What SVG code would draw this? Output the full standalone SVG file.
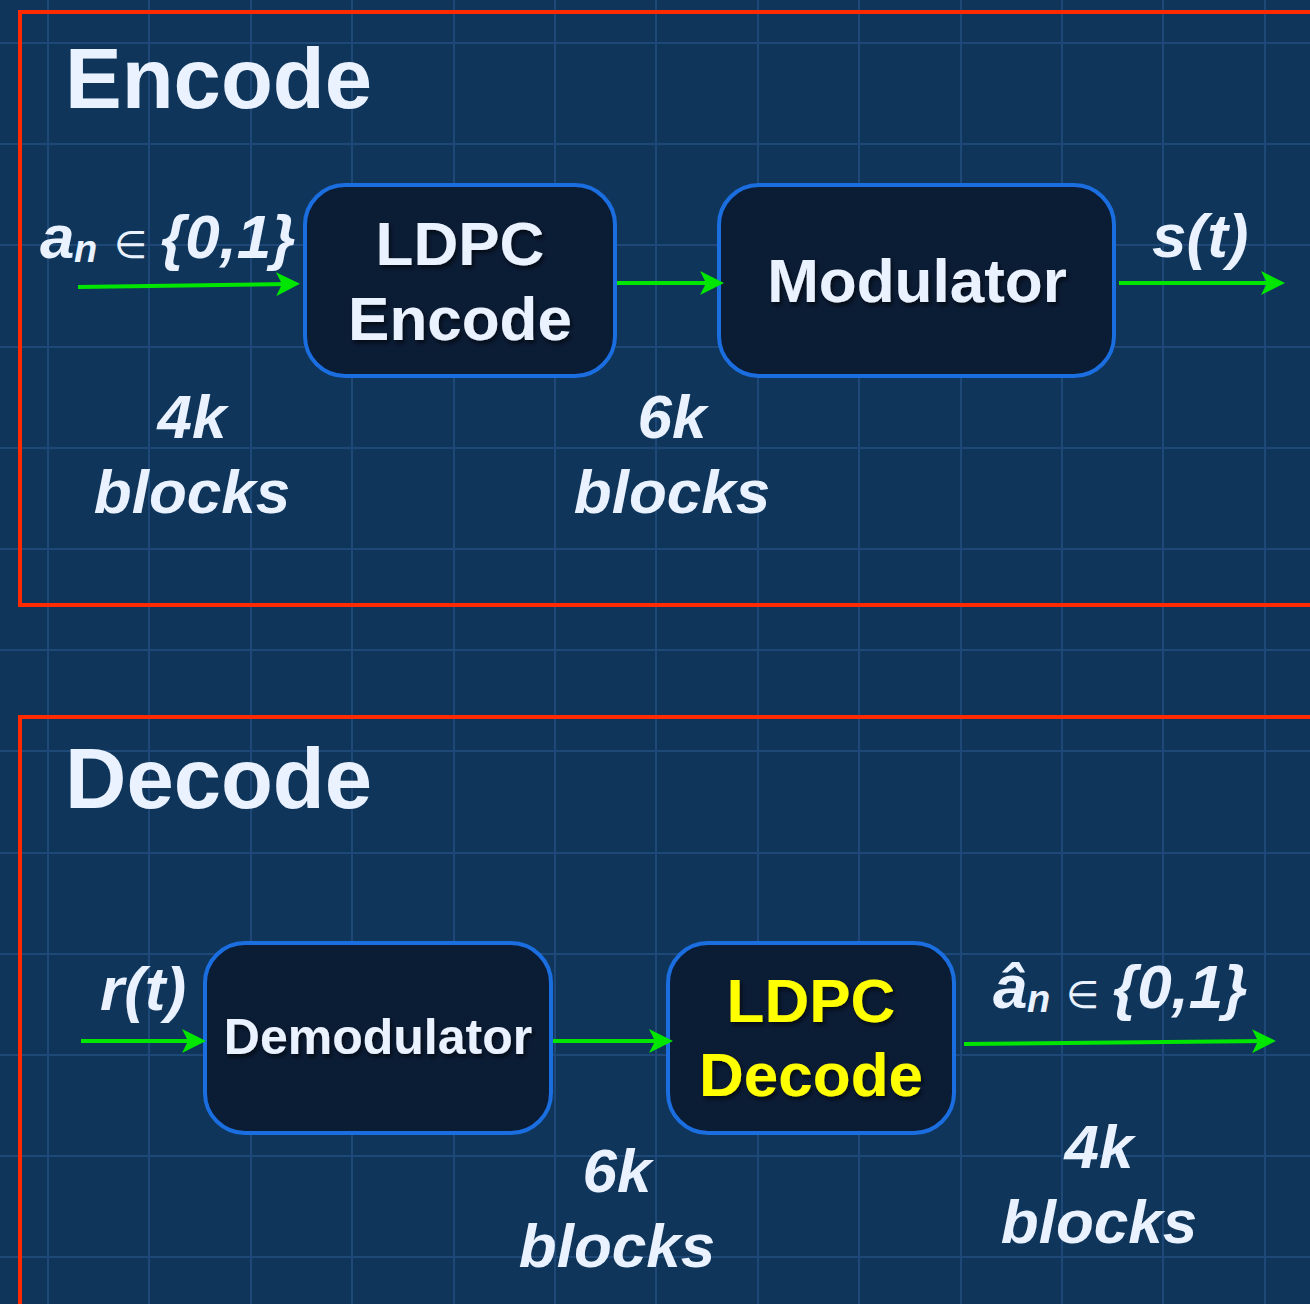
<svg xmlns="http://www.w3.org/2000/svg" width="1310" height="1304" viewBox="0 0 1310 1304">
  <defs>
    <style>
      .grid { stroke: #1d4878; stroke-width: 2; fill: none; }
      .frame { fill: none; stroke: #ff2a00; stroke-width: 4; }
      .box { fill: #0b1c35; stroke: #1b6ee0; stroke-width: 4; }
      .title { font-family: "Liberation Sans", Arial, sans-serif; font-weight: bold; font-size: 85px; fill: #eaf2ff; }
      .node { font-family: "Liberation Sans", Arial, sans-serif; font-weight: bold; font-size: 62px; fill: #eaf2ff; text-anchor: middle; filter: url(#shadow); }
      .node.hl { fill: #ffff00; }
      .node.small { font-size: 50px; }
      .lab { font-family: "Liberation Sans", Arial, sans-serif; font-weight: bold; font-style: italic; font-size: 62px; fill: #eaf2ff; }
      .mid { text-anchor: middle; }
      .sub { font-size: 38px; }
      .sym { font-family: "DejaVu Sans", sans-serif; font-weight: normal; font-style: normal; font-size: 38px; }
      .wire { stroke: #00e600; stroke-width: 4; fill: none; marker-end: url(#head); }
    </style>
    <marker id="head" markerUnits="userSpaceOnUse" viewBox="0 0 24 24" refX="14" refY="12" markerWidth="24" markerHeight="24" orient="auto">
      <path d="M0,0 L24,12 L0,24 L6,12 Z" fill="#00e600"/>
    </marker>
    <filter id="shadow" x="-10%" y="-20%" width="120%" height="140%">
      <feDropShadow dx="2" dy="3" stdDeviation="2" flood-color="#000000" flood-opacity="0.6"/>
    </filter>
  </defs>

  <!-- background and blueprint grid -->
  <rect width="1310" height="1304" fill="#0f365a"/>
  <path class="grid" d="M48,0V1304 M149,0V1304 M251,0V1304 M352,0V1304 M454,0V1304 M555,0V1304 M656,0V1304 M758,0V1304 M859,0V1304 M961,0V1304 M1062,0V1304 M1163,0V1304 M1265,0V1304
    M0,43H1310 M0,144H1310 M0,245H1310 M0,347H1310 M0,448H1310 M0,549H1310 M0,650H1310 M0,751H1310 M0,853H1310 M0,954H1310 M0,1055H1310 M0,1156H1310 M0,1257H1310"/>

  <!-- section frames -->
  <g id="encode-section">
    <rect class="frame" x="20" y="12" width="1400" height="593"/>
    <text class="title" x="65" y="108">Encode</text>
  </g>
  <g id="decode-section">
    <rect class="frame" x="20" y="717" width="1400" height="700"/>
    <text class="title" x="65" y="808">Decode</text>
  </g>

  <!-- encoder chain -->
  <g id="ldpc-encode">
    <rect class="box" x="305" y="185" width="310" height="191" rx="40"/>
    <text class="node" x="460" y="265">LDPC</text>
    <text class="node" x="460" y="340">Encode</text>
  </g>
  <g id="modulator">
    <rect class="box" x="719" y="185" width="395" height="191" rx="40"/>
    <text class="node" x="917" y="302">Modulator</text>
  </g>

  <!-- decoder chain -->
  <g id="demodulator">
    <rect class="box" x="205" y="943" width="346" height="190" rx="40"/>
    <text class="node small" x="378" y="1054">Demodulator</text>
  </g>
  <g id="ldpc-decode">
    <rect class="box" x="668" y="943" width="286" height="190" rx="40"/>
    <text class="node hl" x="811" y="1022">LDPC</text>
    <text class="node hl" x="811" y="1096">Decode</text>
  </g>

  <!-- signal flow -->
  <g id="connectors">
    <path class="wire" d="M78,287 L290,284"/>
    <path class="wire" d="M617,283 L714,283"/>
    <path class="wire" d="M1119,283 L1275,283"/>
    <path class="wire" d="M81,1041 L196,1041"/>
    <path class="wire" d="M553,1041 L663,1041"/>
    <path class="wire" d="M964,1044 L1266,1041"/>
  </g>

  <!-- signal and block-size labels -->
  <g id="labels">
    <text class="lab" y="258"><tspan x="40">a</tspan><tspan class="sub" x="74" y="262">n</tspan><tspan class="sym" x="114" y="258">∈</tspan><tspan x="161" y="258">{0,1}</tspan></text>
    <text class="lab" x="1152" y="257">s(t)</text>
    <text class="lab mid" x="192" y="438">4k</text>
    <text class="lab mid" x="192" y="513">blocks</text>
    <text class="lab mid" x="672" y="438">6k</text>
    <text class="lab mid" x="672" y="513">blocks</text>

    <text class="lab" x="100" y="1010">r(t)</text>
    <text class="lab" y="1008"><tspan x="993">â</tspan><tspan class="sub" x="1027" y="1012">n</tspan><tspan class="sym" x="1066" y="1008">∈</tspan><tspan x="1113" y="1008">{0,1}</tspan></text>
    <text class="lab mid" x="617" y="1192">6k</text>
    <text class="lab mid" x="617" y="1267">blocks</text>
    <text class="lab mid" x="1099" y="1168">4k</text>
    <text class="lab mid" x="1099" y="1243">blocks</text>
  </g>
</svg>
